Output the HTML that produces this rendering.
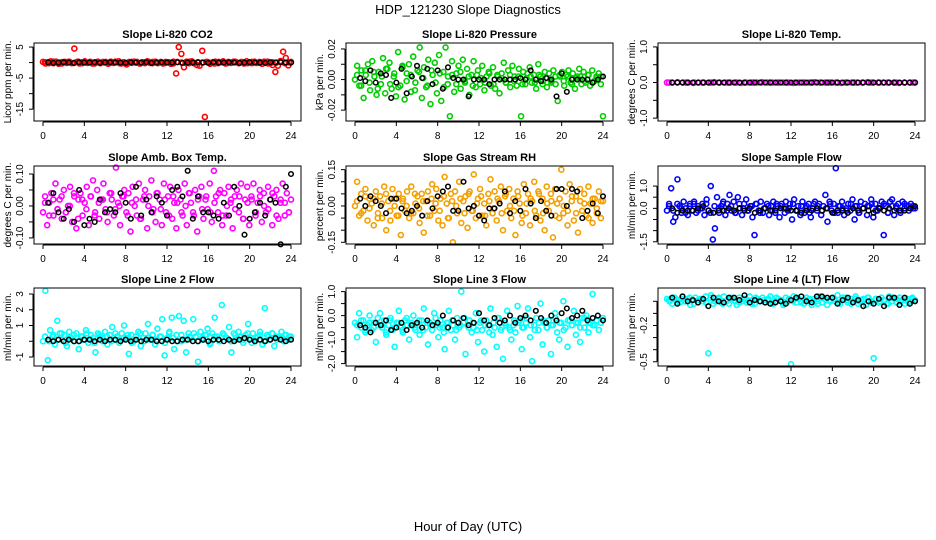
<!DOCTYPE html>
<html><head><meta charset="utf-8"><style>
html,body{margin:0;padding:0;background:#fff;}
svg{display:block;font-family:"Liberation Sans",sans-serif;}
</style></head><body>
<svg id="chart" width="936" height="540" viewBox="0 0 936 540" xmlns="http://www.w3.org/2000/svg">
<rect x="0" y="0" width="936" height="540" fill="#fff"/>
<text x="468" y="14" font-size="13" text-anchor="middle">HDP_121230  Slope Diagnostics</text>
<text x="468" y="531" font-size="13" text-anchor="middle">Hour of Day (UTC)</text>
</svg>
<script>
const xTicks = [0,4,8,12,16,20,24];
const co2Color = [0.2,-0.3,0.1,0.4,-0.2,0.3,-0.4,0.1,0.2,-0.1,0.3,-0.2,4.5,0.2,-0.3,0.1,0.4,-0.1,0.2,-0.3,0.1,0.3,-0.2,0.1,0.2,-0.4,0.3,-0.1,0.2,0.4,-0.3,0.1,-0.6,0.2,-0.1,0.3,0.2,-0.3,0.1,-0.2,0.4,-0.1,0.2,0.3,-0.2,0.1,-0.3,0.2,0.1,-0.4,0.3,-3.5,5,2.8,-1.5,0.3,-0.2,0.4,-0.1,-0.8,-1,3.8,-17.5,0.2,-0.4,0.1,0.3,-0.2,0.1,0.4,-0.3,0.2,-0.1,0.3,0.1,-0.2,0.2,-0.3,0.4,0.1,-0.2,0.3,-0.1,0.2,-0.4,0.1,0.3,-0.2,-0.8,-3,-1,0.5,3.5,1.5,-0.9,0.2];
const co2Core = [0.1,-0.2,0.3,0,-0.3,0.2,0.1,-0.1,0.3,-0.2,0,0.2,-0.3,0.1,0.2,-0.1,0,0.3,-0.2,0.1,-0.1,0.2,0,-0.3,0.1,0.3,-0.2,0,0.2,-0.1,0.1,-0.3,0.2,0,-0.1,0.3,-0.2,0.1,0,0.2,-0.1,-0.3,0.2,0.1,-0.2,0,0.3,-0.1,0.1,-0.2,0.2,0,-0.1,0.3,-0.3,0.1,0,0.2,-0.2,0.1];
const co2Black = [0.1,-0.1,0,0.1,0,-0.1,0.1,0,0,0.1,-0.1,0,0.1,0,0,-0.1,0.1,0,0,0.1,-0.1,0,0.1,0,0,0.1,-0.1,0,0,0.1,0,-0.1,0.1,0,0,0.1,0,-0.1,0,0.1,0,0,-0.1,0.1,0,0.1,0,0];
const presColor = [0,.009,-.004,.006,-.012,.003,.01,-.007,.012,.002,-.01,.005,-.003,.014,-.009,.007,.011,-.006,.002,-.011,.018,-.004,.009,-.013,.004,.01,-.008,.015,-.002,.006,.021,-.012,.008,-.005,.013,-.016,.003,.011,-.009,.016,-.014,.005,.021,-.003,-.024,.012,-.008,.004,.009,-.006,.013,-.002,.007,-.01,.003,.012,-.005,.006,-.003,.009,-.007,.002,.005,-.004,.008,-.006,.003,-.009,.004,.011,-.002,.006,-.005,.009,.002,-.004,.007,-.024,.005,-.003,.004,.008,-.002,.003,-.006,.01,.002,-.003,.005,-.005,.004,-.001,.006,-.003,-.014,.002,.005,-.004,.003,.006,-.002,.004,-.006,.002,.007,-.003,.005,-.002,.003,-.004,.006,-.001,.002,.004,-.003,-.024];
const presCore = [.003,-.004,.006,-.002,.005,-.006,.002,.007,-.003,.004,-.005,.008,-.001,.003,-.007,.005,.001,-.004,.006,-.002,.004,-.005,.002,.003,-.003,.005,-.001,.002,-.004,.003,.001,-.002,.004,-.003,.002,.001,-.002,.003,-.001,.002,-.003,.001,.002,-.002,.003,-.001,.001,-.002,.002,.003,-.001,.002,-.003,.001,.002,-.001,.003,-.002,.001,.002];
const presBlack = [.001,-.001,.006,-.002,.004,.003,-.012,-.002,.007,-.009,.002,.009,.001,.007,-.003,.006,-.006,.008,.001,0,0,-.011,0,0,0,-.003,0,0,0,0,0,.001,0,.006,0,-.001,.001,0,-.011,.004,-.008,0,0,0,0,-.002,0,.002];
const tempColor = [0,0,0.01,0,0,-0.01,0,0,0,0.01,0,0,0,0,-0.01,0,0,0,0.01,0,0,0,0,0,-0.01,0,0,0,0.01,0,0,0,0,-0.01,0,0,0,0,0.01,0,0,0,0,0,-0.01,0,0,0];
const tempCore = [0,0,0,0,0,0,0,0,0,0,0,0,0,0,0,0,0,0,0,0,0,0,0,0,0,0,0,0,0,0];
const tempBlack = [0,0,0,0,0,0,0,0,0,0,0,0,0,0,0,0,0,0,0,0,0,0,0,0,0,0,0,0,0,0,0,0,0,0,0,0,0,0,0,0,0,0,0,0,0,0,0,0];
const ambColor = [-.02,.03,-.06,.01,.04,-.03,.07,-.01,.02,-.04,.05,-.02,0,.06,-.05,.03,-.07,.02,.04,-.03,.01,.06,-.06,.03,.08,-.02,.05,-.04,.02,.07,-.01,-.05,.04,.02,-.03,.12,.01,-.06,.03,.05,-.02,.04,-.08,.06,0,-.03,.07,-.04,.02,.05,-.07,.03,.08,-.01,-.05,.04,.02,-.06,.07,-.02,.03,.06,-.04,.01,-.07,.05,.02,-.03,.07,-.06,.04,.01,-.02,.05,-.08,.03,.06,-.04,.02,-.01,.07,-.05,.11,.03,-.02,.05,-.06,.04,-.03,.06,.01,-.07,.03,.05,-.02,.07,-.04,.02,.06,-.06,.03,.07,-.03,.01,.05,-.05,.04,-.02,.06,.02,-.06,.03,.05,-.04,.01,.07,-.03,.04,-.02,.02];
const ambCore = [.01,-.03,.02,-.01,.03,-.02,.0,.04,-.04,.02,-.01,.03,-.03,.01,.02,-.02,.04,-.01,.0,.03,-.03,.01,.02,-.04,.03,.0,-.02,.04,-.01,.02,-.03,.03,.01,-.02,.0,.04,-.03,.02,-.01,.03,-.02,.01,.04,-.03,.0,.02,-.01,.03,-.04,.01,.02,-.02,.03,.0,-.01,.04,-.03,.02,.01,-.02];
const ambBlack = [.01,.04,-.02,-.04,-.01,-.05,.05,-.06,-.04,-.05,.02,-.02,-.01,-.02,.04,.01,-.04,.06,-.03,.02,-.02,.03,.01,-.03,.05,.06,.03,.11,-.04,.03,-.02,-.02,-.03,-.04,.01,-.03,.06,0,-.09,-.04,-.02,.01,-.03,.02,.01,-.12,.06,.1];
const rhColor = [0,.1,-.04,.05,-.02,.07,-.06,.03,.01,-.08,.06,-.03,.04,-.05,.08,-.1,.02,-.06,.07,0,-.04,.05,-.12,.03,-.02,.06,-.05,.08,-.03,.01,.04,-.07,.05,-.11,.02,.06,-.04,.09,-.02,.07,-.06,.03,-.08,.12,.01,-.05,.05,-.15,.06,-.03,.1,-.07,.02,.04,-.09,.06,-.02,.13,-.05,.03,.07,-.04,.01,-.08,.05,.11,-.03,.06,-.06,.02,.08,-.1,.04,-.02,.07,-.05,.03,-.12,.06,.01,-.07,.09,-.03,.05,-.08,.02,.1,-.04,.06,-.06,.03,-.1,.08,-.02,.05,-.13,.07,.01,-.05,.15,-.03,.06,-.08,.09,.02,-.06,.04,-.11,.07,-.02,.05,-.04,.08,.01,-.07,.03,-.03,.06,-.05,.02];
const rhCore = [.02,-.03,.04,-.01,.03,-.05,.01,.05,-.02,.03,-.04,.02,.0,-.03,.05,-.01,.02,-.04,.03,.01,-.02,.04,-.05,.02,.0,.03,-.03,.05,-.02,.01,.04,-.04,.02,-.01,.03,-.03,.05,.0,-.02,.04,-.04,.01,.03,-.02,.05,-.03,.01,.02,-.04,.03,.0,-.02,.04,-.03,.02,.01,-.05,.03,-.01,.02];
const rhBlack = [.03,0,.04,.02,0,-.03,.03,.03,-.01,-.03,-.02,0,-.04,.02,-.01,.04,.06,.08,-.02,-.02,.1,-.01,0,-.04,-.06,-.01,-.01,.01,.06,-.03,.02,-.02,.07,.01,-.05,.02,-.02,-.04,.07,.07,0,.07,.06,-.05,-.02,.01,-.03,.04];
const sampColor = [-.1,.2,.9,-.6,-.4,1.3,.1,-.2,.3,0,-.3,.2,-.1,.3,-.2,.1,0,.2,-.3,.4,-.1,1.0,-1.4,-.9,.5,-.2,.1,.3,-.3,.2,.6,-.1,.3,-.2,.5,0,-.3,.2,.4,-.1,.1,-.4,-1.2,.2,-.1,.3,-.2,0,.2,-.3,.1,.3,-.2,.1,-.4,.2,0,.3,-.1,.2,-.5,.4,-.1,.1,-.3,.3,-.2,.1,.2,-.4,0,.3,-.1,.2,-.3,.1,.6,-.6,.3,-.1,.2,1.8,-.2,.1,.3,-.3,0,.2,-.1,.4,-.5,.1,-.2,.3,0,.2,-.3,.1,.4,-.4,.2,-.1,0,.3,-1.2,.1,-.2,.3,.4,-.3,.1,.2,-.2,.3,0,.1,-.1,.2,.1,0];
const sampCore = [.1,-.1,.2,0,-.2,.1,.2,-.1,0,.2,-.2,.1,0,.2,-.1,.1,-.2,.2,0,-.1,.1,.2,-.2,0,.1,-.1,.2,.1,-.2,0,.2,-.1,.1,0,-.2,.2,.1,-.1,0,.2,-.2,.1,0,-.1,.2,.1,-.2,0,.1,.2,-.1,0,.2,-.2,.1,0,-.1,.2,.1,0];
const sampBlack = [0,-.2,-.1,-.1,-.1,0,.1,-.1,-.2,-.1,-.1,0,-.1,0,-.1,0,-.2,-.1,0,-.1,-.1,0,0,-.1,-.1,-.2,-.1,-.1,0,-.1,0,-.2,-.1,-.1,-.2,0,-.1,0,-.1,-.2,0,-.1,0,-.1,-.1,-.1,0,.1];
const l2Color = [0,3.2,-1.2,.7,.3,-.2,1.3,.5,.1,.4,-.3,.6,.2,0,.5,-.5,.3,.1,.7,-.1,.4,.2,-.7,.5,.3,0,.6,-.2,.4,.9,.1,.3,-.1,.5,1.0,.2,-.8,.4,0,.3,.6,-.3,.2,.5,1.1,.1,.4,-.2,.8,.3,1.4,-.9,.2,.6,1.5,-.5,.4,1.6,0,1.3,-.7,.5,.2,1.4,.3,-1.3,.6,.1,.4,.8,-.2,.5,1.5,.3,0,2.3,.4,.2,.9,-.7,.5,.1,.6,.3,-.1,.4,1.1,.2,.5,0,.3,.6,-.2,2.1,.4,.1,.5,-.3,.3,.2,.6,0,.4,.1,.3];
const l2Core = [.3,0,.4,.1,.5,-.1,.2,.4,0,.3,.5,.1,-.1,.4,.2,.3,0,.5,.1,.2,.4,-.1,.3,.5,0,.2,.4,.1,.3,-.1,.5,.2,0,.4,.1,.3,.5,0,.2,.4,-.1,.3,.1,.5,.2,0,.4,.3,.1,.5,-.1,.2,.4,0,.3,.5,.1,.2,.4,.3];
const l2Black = [.1,0,.1,0,.1,0,0,.1,.1,0,.1,0,.1,.1,0,.1,0,.1,0,.1,.1,0,0,.1,0,0,.1,.1,0,0,.1,0,.1,.1,0,.1,0,.1,.2,.1,0,.1,0,.1,.2,.1,0,.1];
const l3Color = [-.3,-.9,.1,-.5,-.2,-.7,-.4,0,-.6,-.3,-1.1,-.4,.1,-.5,-.2,-.8,-.4,-.1,-.6,-1.3,-.3,.2,-.5,-.7,-.2,-.4,-1.0,-.3,0,-.6,-.4,-.8,-.2,.3,-.5,-1.2,-.3,-.6,.1,-.4,-.9,-.2,-.5,-1.4,-.3,.2,-.6,-.4,-1.0,-.1,-.5,1.0,-.3,-1.6,-.4,-.2,-.7,-.5,.1,-1.1,-.3,-.6,-1.5,-.2,-.4,.3,-.8,-.5,-1.3,-.1,-.6,-1.8,-.3,.2,-.5,-1.0,-.4,-.7,.4,-.2,-1.4,-.5,-.3,.3,-.9,-1.9,-.4,-.1,-.6,.5,-1.2,-.3,-.5,-.2,-1.6,-.4,.1,-.7,-1.0,-.3,.6,-.5,-1.3,-.2,-.4,.2,-.8,-.3,-1.1,-.1,-.5,0,-.7,-.3,.9,-.4,-.2,-.6,-.3,-.1];
const l3Core = [-.4,-.2,-.6,-.3,-.5,-.1,-.4,-.7,-.2,-.5,-.3,-.6,-.1,-.4,-.5,-.2,-.6,-.3,-.4,-.1,-.5,-.7,-.3,-.2,-.6,-.4,-.1,-.5,-.3,-.6,-.2,-.4,-.7,-.3,-.1,-.5,-.4,-.6,-.2,-.3,-.5,-.1,-.4,-.6,-.3,-.2,-.5,-.4,-.1,-.3,-.6,-.2,-.4,-.3,-.5,-.1,-.3,-.4,-.2,-.3];
const l3Black = [-.4,-.5,-.7,-.3,-.4,-.2,-.6,-.5,-.3,-.6,-.4,-.3,-.5,-.2,-.4,-.3,0,-.5,-.2,-.3,-.1,-.4,-.3,.1,-.2,-.4,-.1,-.3,-.2,0,-.3,-.1,0,-.2,.2,-.1,-.3,0,-.2,.1,.3,-.1,0,.2,-.2,-.1,0,-.2];
const l4Color = [.02,0,-.02,.03,.01,-.01,.04,0,.02,-.03,.01,.03,-.01,.02,0,.04,-.43,.05,-.02,.01,.03,-.01,.04,0,-.02,.02,.01,-.03,.03,0,.02,-.01,.04,.01,-.02,.02,0,.03,-.01,.01,.04,-.02,0,.02,.01,-.03,.03,0,-.52,.04,-.01,.02,0,-.02,.03,.01,-.03,.02,0,.04,-.01,.02,-.03,.01,.03,0,.05,-.02,.01,.03,-.01,.02,0,.04,-.02,.01,.02,-.03,.03,0,-.47,.02,-.01,.03,.01,-.02,.04,0,.02,-.01,.03,.01,-.02,.02,0,.03,.01];
const l4Core = [.01,.03,-.01,.02,0,.03,-.02,.01,.02,-.01,.03,0,.02,-.02,.01,.03,0,-.01,.02,.01,-.02,.03,0,.01,.02,-.01,.03,.01,-.02,.02,0,.03,-.01,.01,.02,0,-.02,.03,.01,0,.02,-.01,.03,.01,-.02,.02,0,.01,.03,-.01,.02,0,.01,-.02,.03,.02,0,.01,-.01,.02];
const l4Black = [.03,-.02,.04,0,.01,-.01,.02,-.04,.03,0,-.01,.03,.03,.01,.05,-.01,.01,0,-.01,-.02,-.01,0,-.02,.01,.03,.04,0,-.01,.04,.04,.03,.03,-.02,.01,.03,-.01,.01,-.04,0,-.02,.02,-.04,.03,.03,-.03,.03,-.02,0];

const co2Ticks=[5,0,-5,-10,-15], co2Labels=["5","","-5","","-15"];
const presTicks=[.02,.01,0,-.01,-.02], presLabels=["0.02","","0.00","","-0.02"];
const tempTicks=[1,.5,0,-.5,-1], tempLabels=["1.0","","0.0","","-1.0"];
const ambTicks=[.1,.05,0,-.05,-.1], ambLabels=["0.10","","0.00","","-0.10"];
const rhTicks=[.15,.1,.05,0,-.05,-.1,-.15], rhLabels=["0.15","","","0.00","","","-0.15"];
const sampTicks=[1,.5,0,-.5,-1,-1.5], sampLabels=["1.0","","0.0","","","-1.5"];
const l2Ticks=[3,2,1,0,-1], l2Labels=["3","2","1","","-1"];
const l3Ticks=[1,.5,0,-.5,-1,-1.5,-2], l3Labels=["1.0","","0.0","","-1.0","","-2.0"];
const l4Ticks=[0,-.1,-.2,-.3,-.4,-.5], l4Labels=["","","-0.2","","","-0.5"];

const panels = [
 {name:"co2",title:"Slope Li-820 CO2",ylab:"Licor ppm per min.",col:0,row:0,ymax:6.3,ymin:-18.8,color:"#ff0000",c:co2Color,k:co2Core,b:co2Black,t:co2Ticks,l:co2Labels},
 {name:"pressure",title:"Slope Li-820 Pressure",ylab:"kPa per min.",col:1,row:0,ymax:.0239,ymin:-.0271,color:"#00cd00",c:presColor,k:presCore,b:presBlack,t:presTicks,l:presLabels},
 {name:"temp",title:"Slope Li-820 Temp.",ylab:"degrees C per min.",col:2,row:0,ymax:1.11,ymin:-1.08,color:"#ff00ff",c:tempColor,k:tempCore,b:tempBlack,t:tempTicks,l:tempLabels},
 {name:"amb-box-temp",title:"Slope Amb. Box Temp.",ylab:"degrees C per min.",col:0,row:1,ymax:.125,ymin:-.119,color:"#ff00ff",c:ambColor,k:ambCore,b:ambBlack,t:ambTicks,l:ambLabels},
 {name:"gas-stream-rh",title:"Slope Gas Stream RH",ylab:"percent per min.",col:1,row:1,ymax:.165,ymin:-.157,color:"#f4a000",c:rhColor,k:rhCore,b:rhBlack,t:rhTicks,l:rhLabels},
 {name:"sample-flow",title:"Slope Sample Flow",ylab:"ml/min per min.",col:2,row:1,ymax:1.9,ymin:-1.6,color:"#0000ff",c:sampColor,k:sampCore,b:sampBlack,t:sampTicks,l:sampLabels},
 {name:"line2-flow",title:"Slope Line 2 Flow",ylab:"ml/min per min.",col:0,row:2,ymax:3.38,ymin:-1.57,color:"#00ffff",c:l2Color,k:l2Core,b:l2Black,t:l2Ticks,l:l2Labels},
 {name:"line3-flow",title:"Slope Line 3 Flow",ylab:"ml/min per min.",col:1,row:2,ymax:1.15,ymin:-2.1,color:"#00ffff",c:l3Color,k:l3Core,b:l3Black,t:l3Ticks,l:l3Labels},
 {name:"line4-flow",title:"Slope Line 4 (LT) Flow",ylab:"ml/min per min.",col:2,row:2,ymax:.11,ymin:-.535,color:"#00ffff",c:l4Color,k:l4Core,b:l4Black,t:l4Ticks,l:l4Labels}
];
const NS="http://www.w3.org/2000/svg";
const svg=document.getElementById("chart");
function mk(tag,attrs,parent){const e=document.createElementNS(NS,tag);for(const k in attrs)e.setAttribute(k,attrs[k]);(parent||svg).appendChild(e);return e;}
const colX=[34,346,658], rowY=[43,166,288], W=267, H=78;
panels.forEach(p=>{
  const L=colX[p.col], T=rowY[p.row], R=L+W, B=T+H;
  const g=mk("g",{});
  
  
  const xs=h=>L+9+h*(W-19)/24;
  const ys=v=>T+(p.ymax-v)/(p.ymax-p.ymin)*H;
  const ttl=mk("text",{x:(L+R)/2,y:T-5,"font-size":11,"font-weight":"bold","text-anchor":"middle"},g);
  ttl.textContent=p.title;
  
  
  const yl=mk("text",{x:0,y:0,"font-size":10,"text-anchor":"middle",transform:`translate(${L-23},${(T+B)/2}) rotate(-90)`},g);
  yl.textContent=p.ylab;
  
  
  p.c.forEach((v,i)=>{
    const c=mk("circle",{cx:xs(i*24/(p.c.length-1)),cy:ys(v),r:2.5,fill:"none",stroke:p.color,"stroke-width":1.6},g);
    
    
  });
  p.k.forEach((v,i)=>{
    const c=mk("circle",{cx:xs(0.2+i*23.6/(p.k.length-1)),cy:ys(v),r:2.5,fill:"none",stroke:p.color,"stroke-width":1.6},g);
    
    
  });
  p.b.forEach((v,i)=>{
    const c=mk("circle",{cx:xs(0.5+i*23.5/(p.b.length-1)),cy:ys(v),r:2.3,fill:"none",stroke:"#000","stroke-width":1.5},g);
    
    
  });
  const box=mk("rect",{x:L,y:T,width:W,height:H,fill:"none",stroke:"#000","stroke-width":1},g);
  
  
  const ax=mk("g",{},g);
  
  
  mk("line",{x1:xs(0),x2:xs(24),y1:B+1,y2:B+1,stroke:"#000"},ax);
  xTicks.forEach(t=>{
    mk("line",{x1:xs(t),x2:xs(t),y1:B+1,y2:B+5,stroke:"#000"},ax);
    const tx=mk("text",{x:xs(t),y:B+18,"font-size":10,"text-anchor":"middle"},ax);
    tx.textContent=t;
    
    
  });
  const ay=mk("g",{},g);
  
  
  mk("line",{x1:L-1,x2:L-1,y1:ys(p.t[0]),y2:ys(p.t[p.t.length-1]),stroke:"#000"},ay);
  p.t.forEach((t,i)=>{
    mk("line",{x1:L-5,x2:L-1,y1:ys(t),y2:ys(t),stroke:"#000"},ay);
    if(p.l[i]){
      const tx=mk("text",{x:0,y:0,"font-size":10,"text-anchor":"middle",transform:`translate(${L-11},${ys(t)}) rotate(-90)`},ay);
      tx.textContent=p.l[i];
      
      
    }
  });
});
</script>
</body></html>
